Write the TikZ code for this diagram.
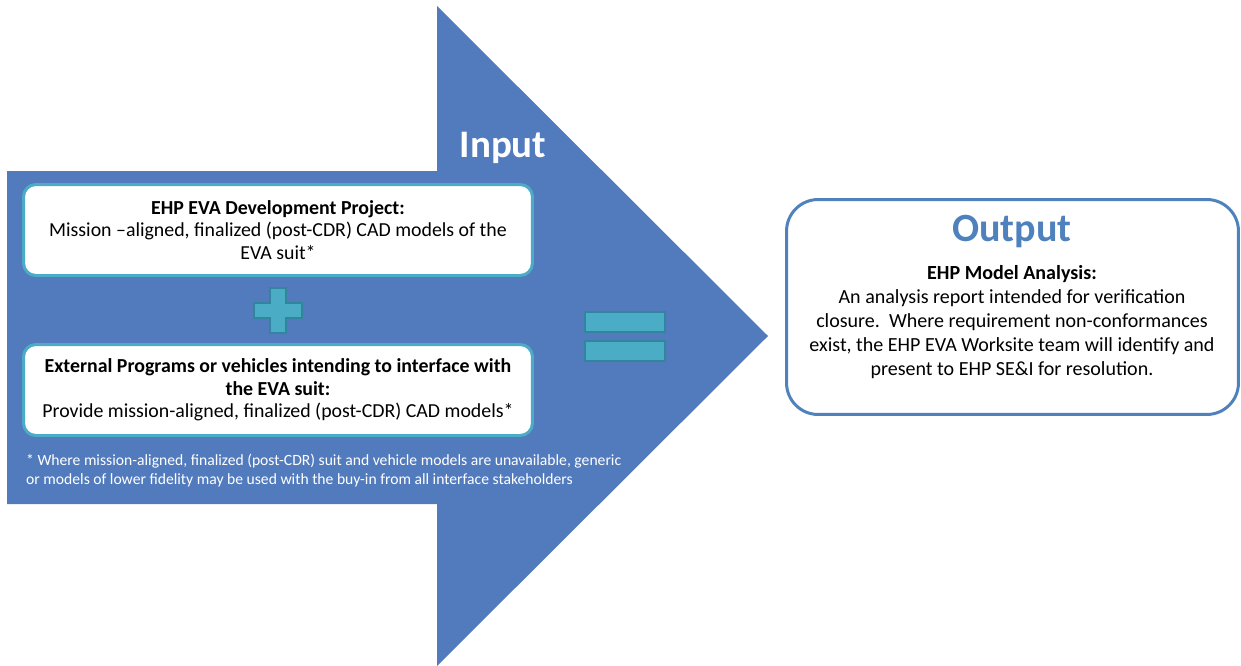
\documentclass[tikz,border=0pt]{standalone}
\usepackage{fontspec}
\setmainfont{Carlito}
\usetikzlibrary{positioning}
\definecolor{arrowblue}{HTML}{527BBD}
\definecolor{tealbox}{HTML}{4BACC6}
\definecolor{tealdark}{HTML}{31859C}
\definecolor{outblue}{HTML}{4F81BD}
\tikzset{
  inbox/.style={draw=tealbox,fill=white,line width=1.7pt,rounded corners=7pt,
    minimum width=10.18cm,minimum height=1.82cm,align=center,inner sep=2pt,
    font=\fontsize{11.3}{12.9}\selectfont},
  signpart/.style={fill=tealbox,draw=tealdark,line width=1.1pt},
  outbox/.style={draw=outblue,line width=1.7pt,rounded corners=18pt,
    minimum width=9.04cm,minimum height=4.3cm},
}
\begin{document}
\begin{tikzpicture}[x=0.02cm,y=-0.02cm]
    \useasboundingbox (0,0) rectangle (1241,666);

    % big input arrow
    \fill[arrowblue] (7,171) -- (437,171) -- (437,6) -- (768,336)
        -- (437,666) -- (437,504) -- (7,504) -- cycle;
    \node[text=white,font=\fontsize{22.2}{24}\bfseries] (input) at (503,148) {Input};

    % input boxes
    \node[inbox] (eva) at (278,230)
        {\textbf{EHP EVA Development Project:}\\
         Mission –aligned, finalized (post-CDR) CAD models of the\\
         EVA suit*};
    \node[inbox] (ext) at (278,390)
        {\textbf{External Programs or vehicles intending to interface with}\\
         \textbf{the EVA suit:}\\
         Provide mission-aligned, finalized (post-CDR) CAD models*};

    % plus and equals
    \draw[signpart] (270,288) -- (286,288) -- (286,303) -- (302,303) -- (302,318)
        -- (286,318) -- (286,333) -- (270,333) -- (270,318) -- (254,318)
        -- (254,303) -- (270,303) -- cycle;
    \draw[signpart] (585,312) rectangle (665,332);
    \draw[signpart] (585,341) rectangle (665,361);

    \node[anchor=west,align=left,text=white,font=\fontsize{8.9}{10.8}\selectfont] (note) at (20,471)
        {* Where mission-aligned, finalized (post-CDR) suit and vehicle models are unavailable, generic\\
         or models of lower fidelity may be used with the buy-in from all interface stakeholders};

    % output
    \node[outbox] (out) at (1012.5,307) {};
    \node[text=outblue,font=\fontsize{22.8}{24}\bfseries] (outtitle) at (1012,232) {Output};
    \node[align=center,font=\fontsize{11.4}{13.6}\selectfont] (outtext) at (1012,322)
        {\textbf{EHP Model Analysis:}\\
         An analysis report intended for verification\\
         closure.\ \ Where requirement non-conformances\\
         exist, the EHP EVA Worksite team will identify and\\
         present to EHP SE\&I for resolution.};
\end{tikzpicture}
\end{document}
